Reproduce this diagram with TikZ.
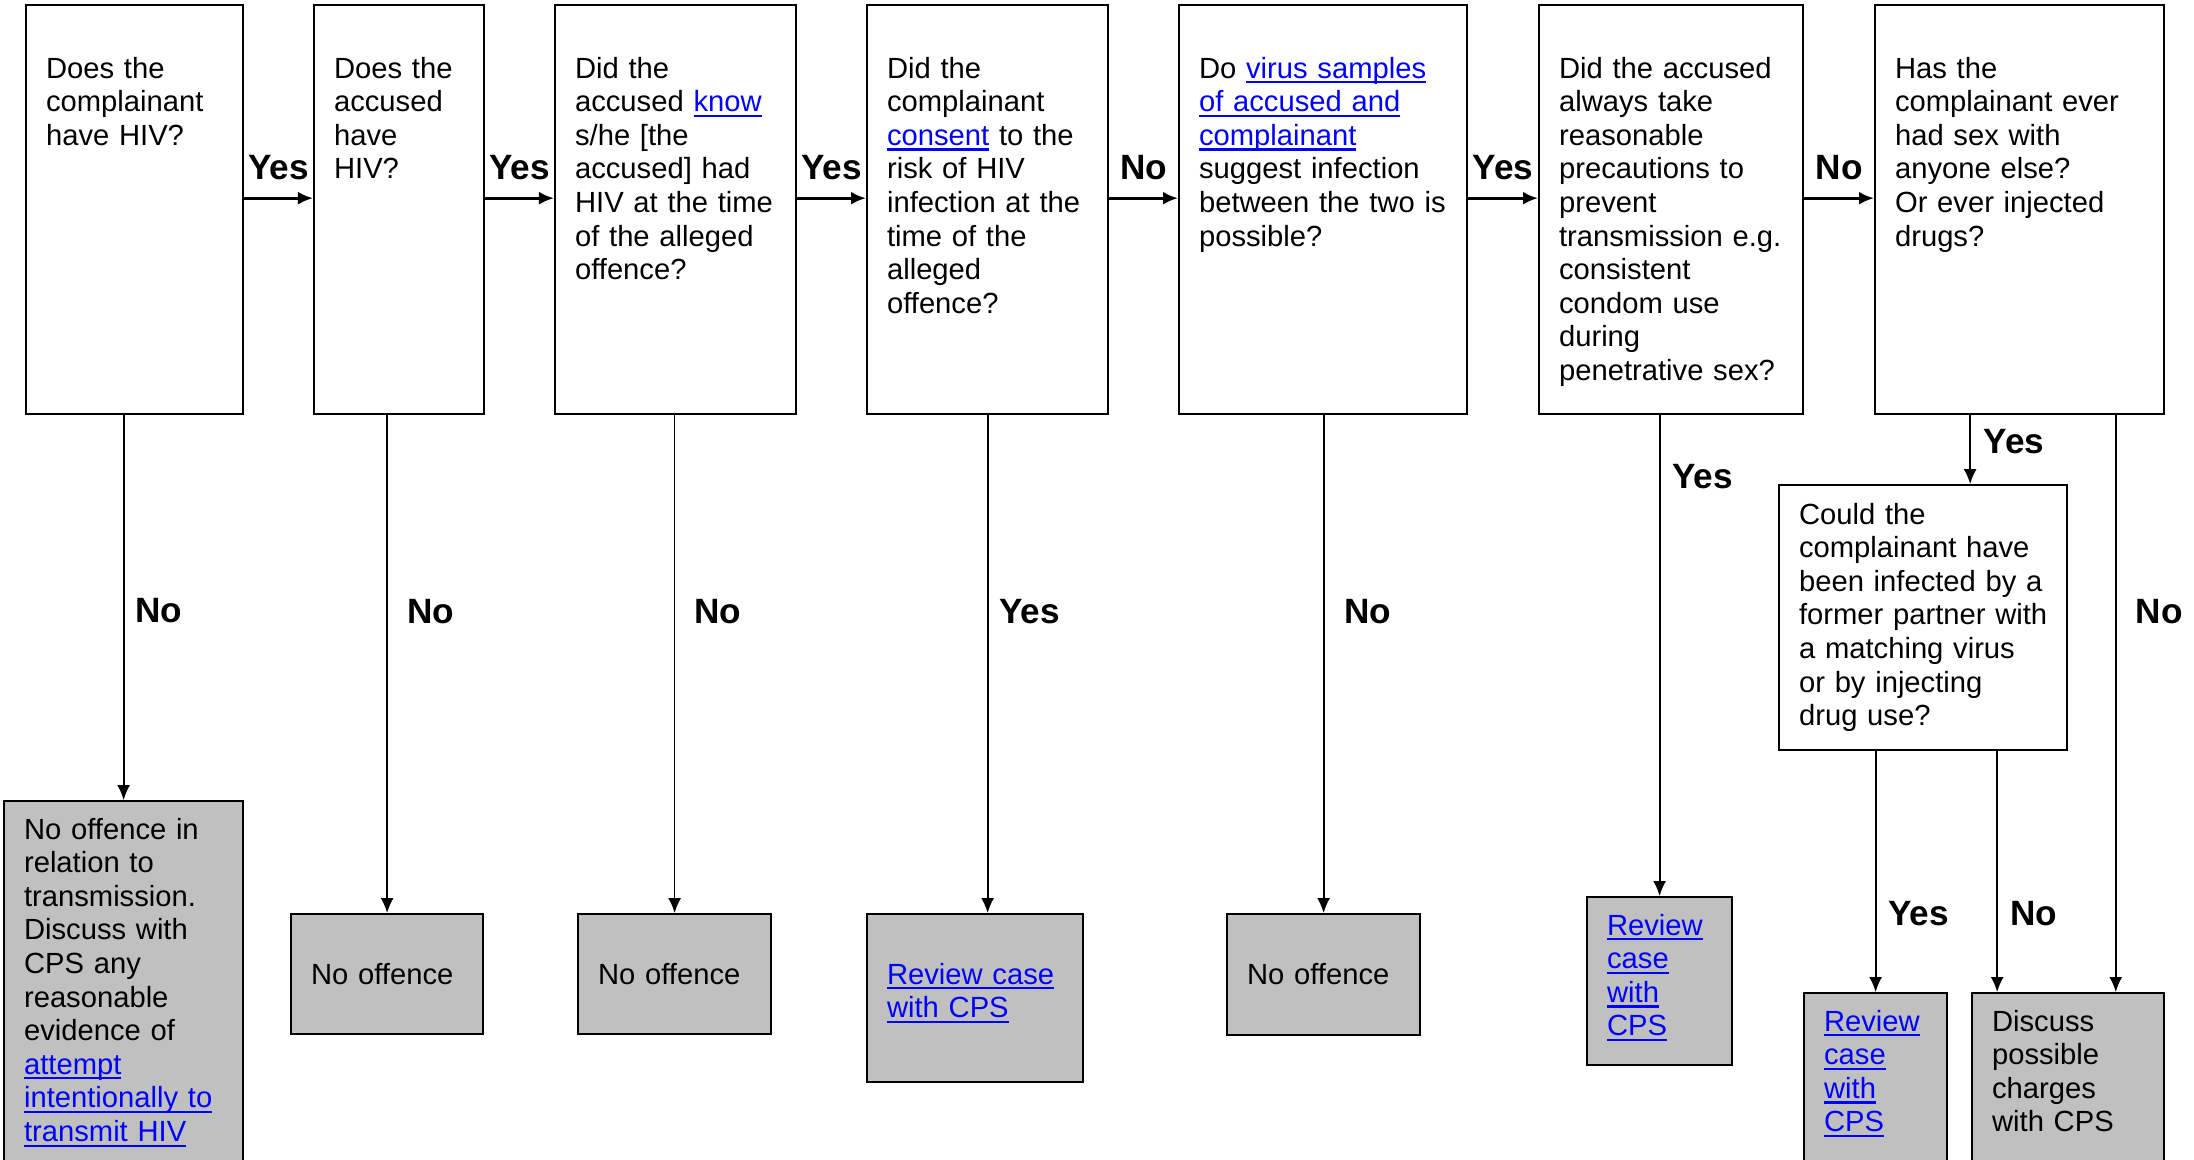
\documentclass[tikz,border=0pt]{standalone}
\usepackage{fontspec}
\setmainfont{Liberation Sans}
\usetikzlibrary{arrows.meta,positioning,calc}
\definecolor{linkblue}{RGB}{0,0,255}
\definecolor{resgray}{RGB}{192,192,192}
\newcommand{\lnk}[1]{\textcolor{linkblue}{\setbox0\hbox{#1}\rlap{\rule[-1.5pt]{\wd0}{0.6pt}}\box0}}
\tikzset{
  qbox/.style 2 args={draw, line width=0.6pt, fill=white, anchor=north west, align=left,
    inner xsep=2mm, inner ysep=0pt, text width=#1, text height=7.3mm, text depth=#2},
  rbox/.style 2 args={qbox={#1}{#2}, fill=resgray},
  lbl/.style={font=\bfseries, inner sep=0pt, text height=0.72em, text depth=0pt},
}
\begin{document}
\begin{tikzpicture}[x=0.01cm, y=-0.01cm, font=\fontsize{8.3}{9.55}\selectfont,
    >={Latex[length=1.5mm,width=1.3mm]}]
\useasboundingbox (0,0) rectangle (2194,1159);
\clip (0,0) rectangle (2194,1159);

\node[qbox={1.77cm}{3.36cm}] (q1) at (25,4) {Does the\\complainant\\have HIV?};
\node[qbox={1.30cm}{3.36cm}] (q2) at (313,4) {Does the\\accused\\have\\HIV?};
\node[qbox={2.01cm}{3.36cm}] (q3) at (554,4) {Did the\\accused \lnk{know}\\s/he [the\\accused] had\\HIV at the time\\of the alleged\\offence?};
\node[qbox={2.01cm}{3.36cm}] (q4) at (866,4) {Did the\\complainant\\\lnk{consent} to the\\risk of HIV\\infection at the\\time of the\\alleged\\offence?};
\node[qbox={2.48cm}{3.36cm}] (q5) at (1178,4) {Do \lnk{virus samples}\\\lnk{of accused and}\\\lnk{complainant}\\suggest infection\\between the two is\\possible?};
\node[qbox={2.24cm}{3.36cm}] (q6) at (1538,4) {Did the accused\\always take\\reasonable\\precautions to\\prevent\\\mbox{transmission e.g.}\\consistent\\condom use\\during\\penetrative sex?};
\node[qbox={2.49cm}{3.36cm}] (q7) at (1874,4) {Has the\\complainant ever\\had sex with\\anyone else?\\Or ever injected\\drugs?};
\node[qbox={2.48cm}{2.26cm}, text height=3.9mm] (q8) at (1778,484) {Could the\\complainant have\\been infected by a\\\mbox{former partner with}\\a matching virus\\or by injecting\\drug use?};

\node[rbox={1.99cm}{3.42cm}, text height=3.8mm] (r1) at (3,800) {No offence in\\relation to\\transmission.\\Discuss with\\CPS any\\reasonable\\evidence of\\\lnk{attempt}\\\lnk{intentionally to}\\\lnk{transmit HIV}};
\node[rbox={1.52cm}{0.50cm}, text height=7.0mm] (r2) at (290,913) {No offence};
\node[rbox={1.53cm}{0.50cm}, text height=7.0mm] (r3) at (577,913) {No offence};
\node[rbox={1.76cm}{0.98cm}, text height=7.0mm] (r4) at (866,913) {\lnk{Review case}\\\lnk{with CPS}};
\node[rbox={1.53cm}{0.51cm}, text height=7.0mm] (r5) at (1226,913) {No offence};
\node[rbox={1.05cm}{1.30cm}, text height=3.8mm] (r6) at (1586,896) {\lnk{Review}\\\lnk{case}\\\lnk{with}\\\lnk{CPS}};
\node[rbox={1.03cm}{1.50cm}, text height=3.8mm] (r7) at (1803,992) {\lnk{Review}\\\lnk{case}\\\lnk{with}\\\lnk{CPS}};
\node[rbox={1.52cm}{1.50cm}, text height=3.8mm] (r8) at (1971,992) {Discuss\\possible\\charges\\with CPS};

\foreach \a/\b/\t in {q1/q2/Yes,q2/q3/Yes,q3/q4/Yes,q4/q5/No,q5/q6/Yes,q6/q7/No}
  \draw[->, line width=0.8pt] ([yshift=1.15mm]\a.east) -- node[lbl, above=1.75mm] {\t} ([yshift=1.15mm]\b.west);

\coordinate (q7y) at ($(q7.south west)!.33!(q7.south east)$);
\coordinate (q7n) at ($(q7.south west)!.83!(q7.south east)$);
\coordinate (q8n) at ($(q8.south west)!.755!(q8.south east)$);

\draw[->, line width=0.5pt] (r1.north |- q1.south) -- node[lbl, pos=.506, right=1.1mm] {No} (r1.north);
\draw[->, line width=0.5pt] (r2.north |- q2.south) -- node[lbl, pos=.392, right=1.9mm] {No} (r2.north);
\draw[->, line width=0.5pt] (r3.north |- q3.south) -- node[lbl, pos=.392, right=1.9mm] {No} (r3.north);
\draw[->, line width=0.5pt] (q4.south) -- node[lbl, pos=.392, right=1.05mm] {Yes} (q4.south |- r4.north);
\draw[->, line width=0.5pt] (r5.north |- q5.south) -- node[lbl, pos=.392, right=2.0mm] {No} (r5.north);
\draw[->, line width=0.5pt] (r6.north |- q6.south) -- node[lbl, pos=.126, right=1.15mm] {Yes} (r6.north);
\draw[->, line width=0.5pt] (q7y) -- node[lbl, pos=.37, right=1.25mm] {Yes} (q7y |- q8.north);
\draw[->, line width=0.5pt] (q7n) -- node[lbl, pos=.339, right=1.9mm] {No} (q7n |- r8.north);
\draw[->, line width=0.5pt] (r7.north |- q8.south) -- node[lbl, pos=.67, right=1.15mm] {Yes} (r7.north);
\draw[->, line width=0.5pt] (q8n) -- node[lbl, pos=.67, right=1.2mm] {No} (q8n |- r8.north);
\end{tikzpicture}
\end{document}
